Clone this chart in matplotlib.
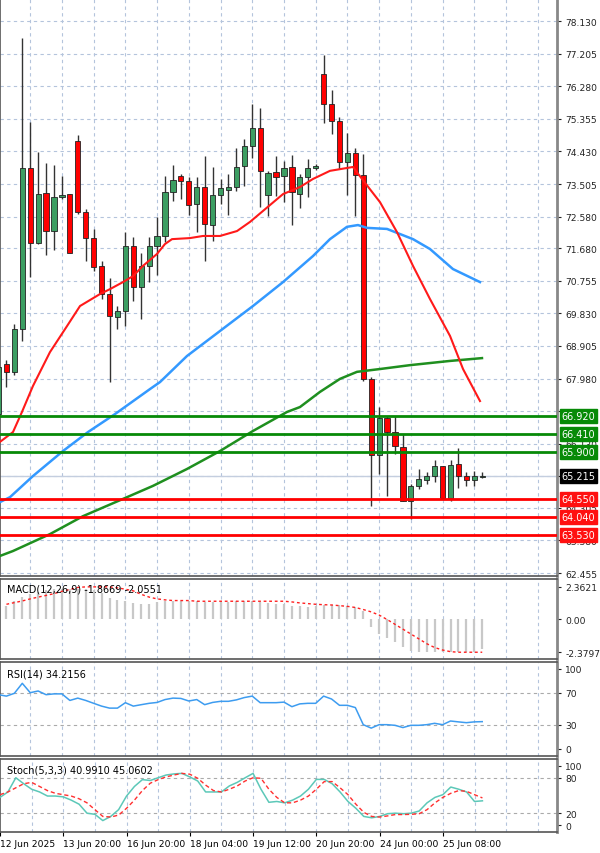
import numpy as np
import matplotlib.pyplot as plt
from matplotlib.transforms import blended_transform_factory

# OHLC candles (index 0..61)
opens = [66.97, 68.39, 68.17, 69.39, 73.96, 71.83, 73.25, 72.17, 73.14, 73.22,
         74.73, 72.71, 71.97, 71.18, 70.38, 69.73, 69.90, 71.74, 70.58, 71.18,
         71.74, 72.03, 73.28, 73.72, 73.59, 72.94, 73.42, 72.34, 73.19, 73.34,
         73.42, 74.02, 74.59, 75.10, 73.19, 73.85, 73.73, 73.99, 73.22, 73.70,
         73.96, 76.63, 75.78, 75.30, 74.13, 74.39, 73.76, 67.97, 65.80, 66.86,
         66.46, 66.03, 64.50, 64.93, 65.10, 65.21, 65.50, 64.59, 65.55, 65.21,
         65.10, 65.18]
highs = [68.53, 68.51, 69.53, 77.65, 75.27, 74.41, 74.10, 74.05, 73.73, 73.22,
         74.90, 72.80, 72.23, 71.32, 70.84, 70.04, 72.14, 72.00, 71.55, 72.00,
         72.57, 73.73, 74.05, 73.79, 73.70, 73.70, 74.30, 73.99, 73.65, 73.79,
         74.53, 74.78, 75.78, 75.66, 73.87, 74.30, 74.16, 74.33, 73.79, 74.22,
         74.07, 77.17, 76.18, 75.41, 74.96, 74.53, 74.36, 68.02, 67.17, 66.92,
         66.92, 66.40, 64.98, 65.41, 65.33, 65.66, 65.50, 65.66, 66.01, 65.33,
         65.35, 65.33]
lows = [66.83, 67.74, 68.08, 69.05, 70.86, 71.80, 71.49, 71.63, 73.08, 71.55,
        72.65, 71.32, 71.03, 70.24, 67.88, 69.39, 69.47, 70.18, 69.67, 70.72,
        70.92, 71.86, 73.02, 73.08, 72.63, 72.14, 71.32, 71.89, 72.94, 72.63,
        73.31, 73.45, 74.25, 72.85, 72.60, 73.16, 72.99, 72.34, 72.82, 73.14,
        73.90, 75.24, 74.93, 73.93, 73.19, 72.60, 67.91, 64.36, 65.27, 64.64,
        65.84, 64.50, 63.99, 64.84, 64.98, 65.04, 64.59, 64.50, 64.87, 64.93,
        64.93, 65.16]
closes = [68.31, 68.17, 69.39, 73.96, 71.83, 73.22, 72.17, 73.14, 73.19, 71.55,
          72.71, 71.97, 71.15, 70.38, 69.76, 69.90, 71.74, 70.58, 71.18, 71.74,
          72.03, 73.28, 73.62, 73.59, 72.91, 73.42, 72.37, 73.19, 73.39, 73.42,
          73.99, 74.59, 75.10, 73.87, 73.82, 73.70, 73.96, 73.28, 73.70, 73.96,
          74.02, 75.78, 75.30, 74.13, 74.39, 73.76, 67.97, 65.80, 66.86, 66.46,
          66.06, 64.50, 64.93, 65.13, 65.21, 65.50, 64.59, 65.52, 65.21, 65.10,
          65.21, 65.215]

# moving averages (index, price)
ma_red_x = [0.19, 1.83, 2.96, 4.35, 6.49, 8.64, 10.28, 12.8, 14.06, 15.70, 16.96, 18.22,
            19.99, 20.99, 21.88, 24.15, 25.79, 27.93, 30.08, 31.72, 33.35, 35.88, 38.02,
            39.66, 41.80, 44.70, 45.84, 48.11, 50.25, 52.27, 54.41, 56.94, 58.58, 60.72]
ma_red_y = [66.18, 66.46, 67.03, 67.77, 68.73, 69.47, 70.04, 70.38, 70.52, 70.72, 70.89,
            71.18, 71.52, 71.80, 71.94, 71.97, 72.03, 72.03, 72.17, 72.43, 72.74, 73.22,
            73.42, 73.65, 73.88, 73.99, 73.65, 72.99, 72.14, 71.18, 70.24, 69.19, 68.25, 67.34]
ma_blue_x = [0.19, 1.45, 4.35, 8.13, 11.29, 14.69, 19.1, 20.37, 23.77, 25.41, 29.57, 32.09,
             35.88, 39.66, 41.80, 43.95, 45.33, 46.47, 48.99, 52.27, 54.41, 57.31, 60.72]
ma_blue_y = [64.47, 64.61, 65.21, 65.92, 66.46, 66.97, 67.68, 67.88, 68.62, 68.90, 69.61,
             70.04, 70.72, 71.46, 71.94, 72.29, 72.34, 72.26, 72.23, 71.94, 71.66, 71.09, 70.72]
ma_green_x = [0.19, 1.83, 4.35, 6.49, 10.66, 15.70, 19.48, 23.77, 27.93, 32.09, 36.38,
              38.02, 40.54, 43.06, 45.21, 48.11, 51.89, 56.94, 60.97]
ma_green_y = [62.94, 63.08, 63.34, 63.56, 64.07, 64.56, 64.93, 65.41, 65.92, 66.49, 67.03,
              67.17, 67.60, 67.97, 68.17, 68.25, 68.36, 68.48, 68.56]

res_levels = [66.92, 66.41, 65.90]
sup_levels = [64.55, 64.04, 63.53]
last_price = 65.215
price_ticks = [78.130, 77.205, 76.280, 75.355, 74.430, 73.505, 72.580, 71.680, 70.755,
               69.830, 68.905, 67.980, 67.055, 66.130, 65.205, 64.305, 63.380, 62.455]

# MACD (index 1..61)
macd_hist = [1.00, 1.37, 1.62, 1.87, 1.99, 2.12, 2.24, 2.24, 2.24, 2.24, 2.24, 2.12, 1.92,
             1.57, 1.42, 1.32, 1.17, 1.12, 1.12, 1.25, 1.32, 1.32, 1.32, 1.32, 1.32, 1.25,
             1.25, 1.25, 1.25, 1.32, 1.32, 1.32, 1.25, 1.17, 1.12, 1.12, 1.00, 0.95, 0.87,
             1.00, 1.07, 1.07, 1.07, 1.00, 0.87, 0.62, -0.54, -1.05, -1.33, -1.63, -1.98,
             -2.30, -2.32, -2.36, -2.37, -2.37, -2.37, -2.37, -2.37, -2.32, -2.15]
macd_signal = [1.10, 1.22, 1.34, 1.49, 1.62, 1.74, 1.87, 2.04, 2.17, 2.32, 2.36, 2.36, 2.36,
               2.36, 2.29, 2.19, 2.07, 1.82, 1.62, 1.49, 1.42, 1.37, 1.37, 1.37, 1.32, 1.32,
               1.32, 1.32, 1.32, 1.32, 1.32, 1.32, 1.32, 1.32, 1.32, 1.32, 1.27, 1.20, 1.15,
               1.10, 1.07, 1.05, 1.00, 0.95, 0.87, 0.72, 0.55, 0.32, 0.00, -0.35, -0.70,
               -1.05, -1.40, -1.75, -2.03, -2.21, -2.33, -2.37, -2.37, -2.37, -2.37]

# RSI (index 0..61)
rsi = [67.9, 66.1, 69.6, 82.1, 70.4, 72.5, 67.9, 68.9, 68.9, 60.7, 63.6, 60.7, 57.1, 53.6,
       51.1, 51.1, 57.9, 53.6, 55.4, 57.1, 58.2, 61.8, 63.6, 63.2, 60.0, 61.8, 55.4, 58.2,
       59.6, 59.6, 61.4, 64.3, 66.1, 57.9, 57.9, 57.9, 58.6, 52.9, 56.4, 57.1, 57.1, 66.1,
       62.5, 54.6, 54.6, 51.8, 30.4, 26.1, 30.4, 30.4, 29.6, 26.8, 29.6, 29.6, 30.4, 32.1,
       30.4, 35.0, 33.9, 32.9, 33.9, 34.2]

# Stochastic (index 0..61)
stoch_k = [46.8, 56.0, 80.0, 69.9, 60.6, 56.0, 49.1, 49.1, 47.7, 42.2, 35.3, 20.1, 18.2, 7.6,
           14.6, 26.1, 49.1, 65.3, 76.8, 75.4, 80.0, 84.6, 86.5, 87.4, 81.4, 74.5, 56.0, 56.0,
           56.0, 66.2, 72.2, 80.0, 87.4, 60.6, 38.5, 39.9, 37.6, 42.2, 49.1, 60.6, 77.2, 77.2,
           69.9, 56.0, 39.9, 28.4, 14.6, 12.3, 14.6, 19.2, 20.1, 19.2, 20.1, 23.8, 37.6, 46.8,
           51.4, 64.3, 60.6, 56.0, 39.9, 41.0]
stoch_d = [51.4, 56.0, 63.0, 69.9, 72.2, 65.3, 58.3, 53.7, 51.4, 49.1, 44.5, 37.6, 26.1, 14.6,
           13.6, 16.9, 28.4, 42.2, 58.3, 70.8, 76.8, 81.4, 84.6, 87.4, 86.0, 79.1, 67.6, 58.3,
           56.0, 60.6, 66.2, 74.5, 80.0, 79.1, 60.6, 46.8, 37.6, 37.6, 42.2, 49.1, 60.6, 73.5,
           73.5, 63.0, 51.4, 35.3, 21.5, 14.6, 13.6, 15.5, 17.8, 17.8, 18.2, 19.2, 26.1, 37.6,
           46.8, 53.7, 58.3, 57.0, 51.4, 45.9]

date_pos = [0, 8, 16, 24, 32, 40, 48, 56]
date_labels = ['12 Jun 2025', '13 Jun 20:00', '16 Jun 20:00', '18 Jun 04:00',
               '19 Jun 12:00', '20 Jun 20:00', '24 Jun 00:00', '25 Jun 08:00']

W, H = 600, 854
fig = plt.figure(figsize=(6, 8.54), dpi=100)
AW = 557 / W


def panel(top, bottom):
    return fig.add_axes([0, 1 - bottom / H, AW, (bottom - top) / H])


ax = panel(0, 577)
ax_m = panel(580, 660)
ax_r = panel(663, 757)
ax_s = panel(760, 833)

grid_c = '#b4c4dc'
xl = (0.19, 70.43)
for a in (ax, ax_m, ax_r, ax_s):
    a.set_xlim(*xl)
    for xv in range(4, 70, 4):
        a.axvline(xv, color=grid_c, lw=0.8, ls=(0, (3, 3)), zorder=0)
    for s in a.spines.values():
        s.set_color('#555555')
        s.set_linewidth(1.2)
    a.spines['right'].set_color('#888888')
    a.spines['right'].set_linewidth(2)
    a.tick_params(axis='y', right=True, left=False, labelright=True, labelleft=False,
                  labelsize=6.6, pad=3, length=3, colors='#222222')
    a.tick_params(axis='x', bottom=False, labelbottom=False)

# main price panel
ax.set_ylim(62.37, 78.762)
ax.set_yticks(price_ticks)
ax.set_yticklabels([f'{t:.3f}' for t in price_ticks])
for t in price_ticks:
    ax.axhline(t, color=grid_c, lw=0.8, ls=(0, (3, 3)), zorder=0)

idx = np.arange(len(opens))
for i in idx:
    o, h, l, c = opens[i], highs[i], lows[i], closes[i]
    col = '#3c9e62' if c >= o else '#ff0000'
    ax.vlines(i, l, h, color='#333333', lw=1, zorder=3)
    bot = min(o, c)
    ht = max(abs(c - o), 0.04)
    ax.bar(i, ht, bottom=bot, width=0.66, color=col, edgecolor='#222222', lw=0.6, zorder=4)

ax.plot(ma_green_x, ma_green_y, color='#1f8f1f', lw=1.8, zorder=5)
ax.plot(ma_blue_x, ma_blue_y, color='#3399ff', lw=1.8, zorder=5)
ax.plot(ma_red_x, ma_red_y, color='#ff1a1a', lw=1.5, zorder=5)

ax.axhline(last_price, color='#c4cedf', lw=1, zorder=2)
tr = blended_transform_factory(ax.transAxes, ax.transData)
box_kw = dict(transform=tr, fontsize=7, color='white', va='center', ha='left',
              zorder=10, clip_on=False)
for lv in res_levels:
    ax.axhline(lv, color='#078a07', lw=2, zorder=6)
    ax.text(1.008, lv, f'{lv:.3f}', bbox=dict(boxstyle='square,pad=0.2', fc='#078a07',
                                               ec='#078a07'), **box_kw)
for lv in sup_levels:
    ax.axhline(lv, color='#ff0000', lw=2, zorder=6)
    ax.text(1.008, lv, f'{lv:.3f}', bbox=dict(boxstyle='square,pad=0.2', fc='#ff1010',
                                               ec='#ff1010'), **box_kw)
ax.text(1.008, last_price, f'{last_price:.3f}',
        bbox=dict(boxstyle='square,pad=0.2', fc='black', ec='black'), **box_kw)

# MACD panel
ax_m.set_ylim(-2.86, 2.93)
ax_m.set_yticks([2.3621, 0.0, -2.3797])
ax_m.set_yticklabels(['2.3621', '0.00', '-2.3797'])
mx = np.arange(1, 1 + len(macd_hist))
ax_m.vlines(mx, 0, macd_hist, color='#c8c8c8', lw=1.6, zorder=2)
ax_m.plot(mx, macd_signal, color='#ff2020', lw=1, ls=(0, (2, 2)), zorder=3)
ax_m.text(0.012, 0.88, 'MACD(12,26,9) -1.8669 -2.0551', transform=ax_m.transAxes,
          fontsize=7, va='center', ha='left')

# RSI panel
ax_r.set_ylim(-8.75, 108.75)
ax_r.set_yticks([100, 70, 30, 0])
ax_r.set_yticklabels(['100', '70', '30', '0'])
for lv in (70, 30):
    ax_r.axhline(lv, color='#aaaaaa', lw=0.8, ls=(0, (3, 3)), zorder=1)
ax_r.plot(np.arange(len(rsi)), rsi, color='#3d9cf0', lw=1.1, zorder=3)
ax_r.text(0.012, 0.88, 'RSI(14) 34.2156', transform=ax_r.transAxes, fontsize=7,
          va='center', ha='left')

# Stochastic panel
ax_s.set_ylim(-11.7, 111.7)
ax_s.set_yticks([100, 80, 20, 0])
ax_s.set_yticklabels(['100', '80', '20', '0'])
for lv in (80, 20):
    ax_s.axhline(lv, color='#aaaaaa', lw=0.8, ls=(0, (3, 3)), zorder=1)
ax_s.plot(np.arange(len(stoch_k)), stoch_k, color='#5cc8b8', lw=1.1, zorder=3)
ax_s.plot(np.arange(len(stoch_d)), stoch_d, color='#ff3030', lw=1, ls=(0, (3, 2)), zorder=3)
ax_s.text(0.012, 0.86, 'Stoch(5,3,3) 40.9910 45.0602', transform=ax_s.transAxes,
          fontsize=7, va='center', ha='left')
ax_s.set_xticks(date_pos)
ax_s.set_xticklabels(date_labels, ha='left', fontsize=6.6)
ax_s.tick_params(axis='x', bottom=True, labelbottom=True, length=3, pad=2)

fig.savefig('out.png', dpi=100)
